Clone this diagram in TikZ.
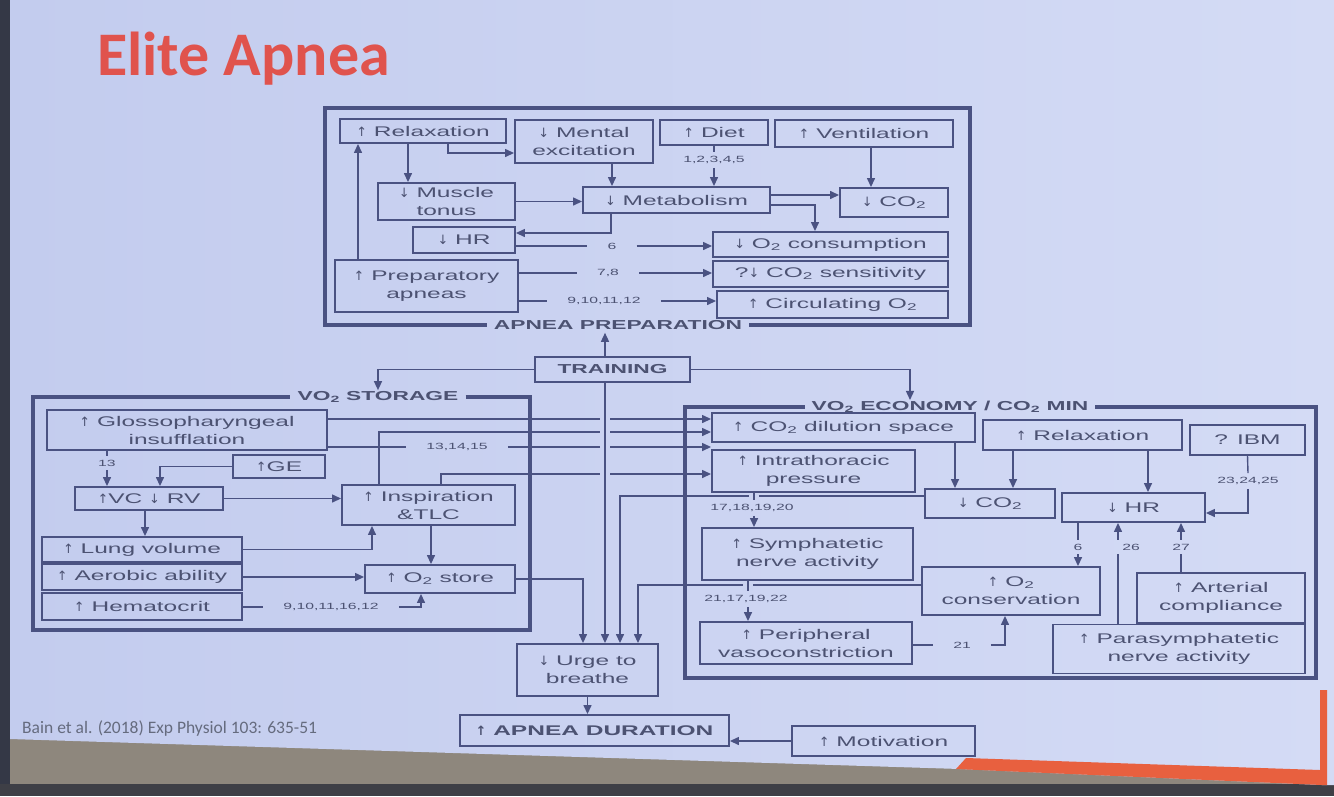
\documentclass[tikz,border=0pt]{standalone}
\usepackage{fontspec}
\setmainfont{Liberation Sans}[FakeStretch=1.75]
\newfontfamily\titlefont{Carlito}
\newfontfamily\arrowfont{DejaVu Sans}[Scale=0.92]
\newcommand\upa{{\arrowfont ↑}}
\newcommand\dna{{\arrowfont ↓}}
\usetikzlibrary{arrows.meta}
\definecolor{slideL}{HTML}{C3CCEE}
\definecolor{slideR}{HTML}{D4DBF5}
\definecolor{gapbg}{HTML}{CBD3F1}
\definecolor{ink}{HTML}{4A5282}
\definecolor{boxtext}{HTML}{4C5272}
\definecolor{titlered}{HTML}{E0534D}
\definecolor{citegray}{HTML}{656B7E}
\definecolor{frameedge}{HTML}{343846}
\definecolor{floortan}{HTML}{8E877D}
\definecolor{floordark}{HTML}{3E3F46}
\definecolor{accent}{HTML}{E8603F}
\tikzset{
  bx/.style={draw=ink,line width=1.9pt,text=boxtext,inner sep=0pt,align=center,font=\fontsize{14}{18}\selectfont},
  bbx/.style={bx,font=\bfseries\fontsize{13}{16}\selectfont},
  frm/.style={draw=ink,line width=3.6pt},
  hd/.style={text=boxtext,inner xsep=7pt,inner ysep=1pt,font=\bfseries\fontsize{13}{16}\selectfont},
  ln/.style={draw=ink,line width=1.4pt},
  arr/.style={ln,-{Triangle[length=9pt,width=8pt]}},
  hlbl/.style={text=boxtext,inner xsep=20pt,inner ysep=1pt,font=\fontsize{9}{11}\selectfont},
  vlbl/.style={text=boxtext,inner xsep=1pt,inner ysep=4pt,font=\fontsize{9}{11}\selectfont},
  lgap/.style={draw=gapbg,line width=10pt},
}
\begin{document}
\begin{tikzpicture}[x=1pt,y=-1pt]
\useasboundingbox (0,0) rectangle (1334,796);
\fill[floortan] (0,0) rectangle (1334,796);
\fill[floordark] (0,784) rectangle (1334,796);
\fill[frameedge] (0,0) rectangle (10,784);
\shade[left color=slideL,right color=slideR] (10,0) -- (1334,0) -- (1334,785) -- (1322,785) -- (960,769) -- (10,739) -- cycle;
\fill[accent] (956,769) -- (966,758) -- (1320,770) -- (1320,690) -- (1327,690) -- (1327,785) -- (1322,785) -- cycle;
\node[anchor=base west,text=titlered,inner sep=0pt,font=\titlefont\bfseries\fontsize{62}{70}\selectfont] (title) at (97,75) {Elite Apnea};
\node[anchor=base west,text=citegray,inner sep=0pt,font=\titlefont\fontsize{17.5}{21}\selectfont] (cite) at (22,733) {Bain et al. (2018) Exp Physiol 103: 635-51};
\node[bx,minimum width=166pt,minimum height=24pt] (prelax) at (423,131) {\upa{} Relaxation};
\node[bx,minimum width=138pt,minimum height=43pt] (pment) at (584,141.5) {\dna{} Mental\\excitation};
\node[bx,minimum width=108pt,minimum height=25pt] (pdiet) at (714,132.5) {\upa{} Diet};
\node[bx,minimum width=178pt,minimum height=27pt] (pvent) at (864,133.5) {\upa{} Ventilation};
\node[bx,minimum width=137pt,minimum height=37pt] (pmus) at (446.5,201.5) {\dna{} Muscle\\tonus};
\node[bx,minimum width=187pt,minimum height=26pt] (pmeta) at (676.5,200) {\dna{} Metabolism};
\node[bx,minimum width=108pt,minimum height=29pt] (pco) at (894,202.5) {\dna{} CO\textsubscript{2}};
\node[bx,minimum width=102pt,minimum height=26pt] (phr) at (464,240) {\dna{} HR};
\node[bx,minimum width=235pt,minimum height=25pt] (poxc) at (830.5,244.5) {\dna{} O\textsubscript{2} consumption};
\node[bx,minimum width=235pt,minimum height=26pt] (pcos) at (830.5,274) {?\dna{} CO\textsubscript{2} sensitivity};
\node[bx,minimum width=231pt,minimum height=27pt] (pcirc) at (832.5,304.5) {\upa{} Circulating O\textsubscript{2}};
\node[bx,minimum width=183pt,minimum height=52pt] (pprep) at (426.5,286) {\upa{} Preparatory\\apneas};
\node[hd] (hdprep) at (618,325) {APNEA PREPARATION};
\draw[frm] (hdprep.east) -| (970,108) -| (325,325) -- (hdprep.west);
\draw[arr] (408,0 |- prelax.south) -- (408,0 |- pmus.north);
\draw[arr] (448,0 |- prelax.south) |- (pment.west |- 0,153);
\draw[arr] (612,0 |- pment.south) -- (612,0 |- pmeta.north);
\node[vlbl] (l1to5) at (714,160) {1,2,3,4,5};
\draw[ln] (pdiet.south) -- (l1to5.north);
\draw[arr] (l1to5.south) -- (pdiet.south |- pmeta.north);
\draw[arr] (871,0 |- pvent.south) -- (871,0 |- pco.north);
\draw[arr] (pmus.east) -- (pmeta.west |- pmus.east);
\draw[arr] (pmeta.east |- 0,195) -- (pco.west |- 0,195);
\draw[arr] (pmeta.east |- 0,205) -| (815,0 |- poxc.north);
\draw[arr] (611,0 |- pmeta.south) |- (phr.east |- 0,233);
\node[hlbl] (l6) at (612,246) {6};
\draw[ln] (phr.east |- l6) -- (l6.west);
\draw[arr] (l6.east) -- (poxc.west |- l6);
\node[hlbl] (l78) at (608,273) {7,8};
\draw[ln] (pprep.east |- l78) -- (l78.west);
\draw[arr] (l78.east) -- (pcos.west |- l78);
\node[hlbl] (l912) at (604,301) {9,10,11,12};
\draw[ln] (pprep.east |- l912) -- (l912.west);
\draw[arr] (l912.east) -- (pcirc.west |- l912);
\draw[arr] (358,0 |- pprep.north) -- (358,0 |- prelax.south);
\node[bbx,minimum width=155pt,minimum height=25pt] (train) at (612.5,369.5) {TRAINING};
\draw[arr,shorten >=2pt] (605,0 |- train.north) -- (605,0 |- hdprep.south);
\node[hd] (hdstor) at (378,397) {VO\textsubscript{2} STORAGE};
\node[hd] (hdecon) at (950,407) {VO\textsubscript{2} ECONOMY / CO\textsubscript{2} MIN};
\draw[arr] (train.west) -| (hdstor.north);
\draw[arr] (train.east) -| (910,0 |- hdecon.north);
\draw[frm] (hdstor.east) -| (530,630) -| (33,397) -- (hdstor.west);
\draw[frm] (hdecon.east) -| (1316,678) -| (685,407) -- (hdecon.west);
\node[bx,minimum width=280pt,minimum height=40pt] (sglos) at (187,430) {\upa{} Glossopharyngeal\\insufflation};
\node[bx,minimum width=92pt,minimum height=23pt] (sge) at (279,466.5) {\upa GE};
\node[bx,minimum width=148pt,minimum height=23pt] (svc) at (149,498.5) {\upa VC \dna{} RV};
\node[bx,minimum width=200pt,minimum height=25pt] (slung) at (142,549.5) {\upa{} Lung volume};
\node[bx,minimum width=200pt,minimum height=26pt] (saero) at (142,577) {\upa{} Aerobic ability};
\node[bx,minimum width=200pt,minimum height=27pt] (shema) at (142,606.5) {\upa{} Hematocrit};
\node[bx,minimum width=173pt,minimum height=40pt] (sinsp) at (428.5,505) {\upa{} Inspiration\\\&TLC};
\node[bx,minimum width=150pt,minimum height=28pt] (sstore) at (440,579) {\upa{} O\textsubscript{2} store};
\node[vlbl] (l13) at (107,463) {13};
\draw[ln] (107,0 |- sglos.south) -- (l13.north);
\draw[arr] (l13.south) -- (107,0 |- svc.north);
\draw[arr] (sge.west) -| (160,0 |- svc.north);
\draw[arr] (svc.east) -- (sinsp.west |- svc.east);
\draw[arr] (145,0 |- svc.south) -- (145,0 |- slung.north);
\draw[arr] (slung.east) -| (372,0 |- sinsp.south);
\draw[arr] (saero.east) -- (sstore.west |- saero.east);
\node[hlbl] (l916) at (331,607) {9,10,11,16,12};
\draw[ln] (shema.east |- l916) -- (l916.west);
\draw[arr] (l916.east) -| (421,0 |- sstore.south);
\draw[arr] (431,0 |- sinsp.south) -- (431,0 |- sstore.north);
\node[bx,minimum width=263pt,minimum height=29pt] (edil) at (843.5,427.5) {\upa{} CO\textsubscript{2} dilution space};
\node[bx,minimum width=203pt,minimum height=42pt] (eintr) at (813.5,471) {\upa{} Intrathoracic\\pressure};
\node[bx,minimum width=199pt,minimum height=30pt] (erelax) at (1082.5,435) {\upa{} Relaxation};
\node[bx,minimum width=115pt,minimum height=30pt] (eibm) at (1247.5,440) {? IBM};
\node[bx,minimum width=130pt,minimum height=29pt] (eco) at (990,503.5) {\dna{} CO\textsubscript{2}};
\node[bx,minimum width=143pt,minimum height=29pt] (ehr) at (1133.5,507.5) {\dna{} HR};
\node[bx,minimum width=211pt,minimum height=52pt] (esymp) at (807.5,554) {\upa{} Symphatetic\\nerve activity};
\node[bx,minimum width=178pt,minimum height=48pt] (econs) at (1011,591) {\upa{} O\textsubscript{2}\\conservation};
\node[bx,minimum width=168pt,minimum height=50pt] (eart) at (1221,598) {\upa{} Arterial\\compliance};
\node[bx,minimum width=212pt,minimum height=42pt] (eperi) at (806,643) {\upa{} Peripheral\\vasoconstriction};
\node[bx,minimum width=252pt,minimum height=49pt] (epara) at (1179,649) {\upa{} Parasymphatetic\\nerve activity};
\node[bx,minimum width=141pt,minimum height=52pt] (urge) at (587.5,670) {\dna{} Urge to\\breathe};
\node[bbx,minimum width=269pt,minimum height=31pt,font=\bfseries\fontsize{14}{17}\selectfont] (adur) at (594.5,730.5) {\upa{} APNEA DURATION};
\node[bx,minimum width=183pt,minimum height=30pt] (motiv) at (883.5,741) {\upa{} Motivation};
\draw[arr] (sglos.east |- 0,419) -- (edil.west |- 0,419);
\draw[arr] (379,0 |- sinsp.north) |- (edil.west |- 0,432);
\node[hlbl] (l1315) at (457,447) {13,14,15};
\draw[ln] (sglos.east |- l1315) -- (l1315.west);
\draw[arr] (l1315.east) -- (eintr.west |- l1315);
\draw[arr] (441,0 |- sinsp.north) |- (eintr.west |- 0,474);
\draw[arr] (sstore.east) -| (583,0 |- urge.north);
\draw[lgap] (605,400) -- (605,630);
\draw[arr] (605,0 |- train.south) -- (605,0 |- urge.north);
\draw[arr] (955,0 |- edil.south) -- (955,0 |- eco.north);
\draw[arr] (1013,0 |- erelax.south) -- (1013,0 |- eco.north);
\draw[arr] (1148,0 |- erelax.south) -- (1148,0 |- ehr.north);
\node[vlbl] (l2325) at (1248,481) {23,24,25};
\draw[ln] (eibm.south) -- (l2325.north);
\draw[arr] (l2325.south) |- (ehr.east |- 0,513);
\node[vlbl] (l6b) at (1078,547) {6};
\draw[ln] (1078,0 |- ehr.south) -- (l6b.north);
\draw[arr] (l6b.south) -- (1078,0 |- econs.north);
\node[vlbl] (l26) at (1131,547) {26};
\draw[ln] (1118,0 |- epara.north) -- (1118,0 |- l26.south);
\draw[arr] (1118,0 |- l26.north) -- (1118,0 |- ehr.south);
\node[vlbl] (l27) at (1181,547) {27};
\draw[ln] (1181,0 |- eart.north) -- (l27.south);
\draw[arr] (l27.north) -- (1181,0 |- ehr.south);
\node[hlbl] (l21) at (962,645) {21};
\draw[ln] (eperi.east |- l21) -- (l21.west);
\draw[arr] (l21.east) -| (1005,0 |- econs.south);
\draw[arr] (eco.west |- 0,496) -| (620,0 |- urge.north);
\draw[arr] (econs.west |- 0,585) -| (638,0 |- urge.north);
\node[vlbl] (l1720) at (752,508) {17,18,19,20};
\node[vlbl] (l2117) at (746,599) {21,17,19,22};
\draw[lgap] (754,494) -- (754,0 |- l1720.north);
\draw[ln] (754,0 |- eintr.south) -- (754,0 |- l1720.north);
\draw[arr] (754,0 |- l1720.south) -- (754,0 |- esymp.north);
\draw[lgap] (748,582) -- (748,0 |- l2117.north);
\draw[ln] (748,0 |- esymp.south) -- (748,0 |- l2117.north);
\draw[arr] (748,0 |- l2117.south) -- (748,0 |- eperi.north);
\draw[arr] (urge.south) -- (urge.south |- adur.north);
\draw[arr] (motiv.west) -- (adur.east |- motiv.west);
\end{tikzpicture}
\end{document}
